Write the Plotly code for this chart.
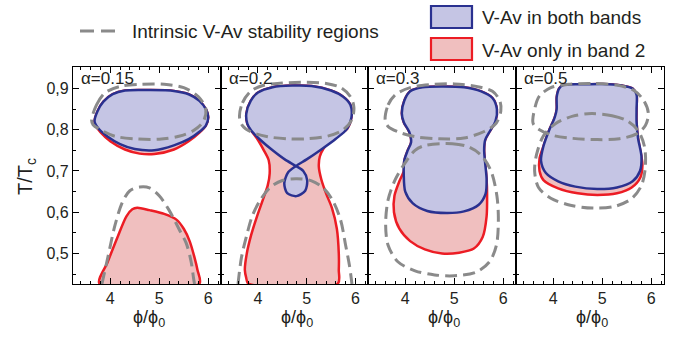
import plotly.graph_objects as go

W, H = 674, 337

# ---------------- data ----------------
alphas = ["α=0.15", "α=0.2", "α=0.3", "α=0.5"]
x_ticks = [4, 5, 6]
x_ticktext = ["4", "5", "6"]
y_ticks = [0.5, 0.6, 0.7, 0.8, 0.9]
y_ticktext = ["0,5", "0,6", "0,7", "0,8", "0,9"]
x_range = [3.24, 6.26]
y_range = [0.426, 0.952]

# panel 1 (alpha = 0.15)
p1_both_x = [3.68, 3.74, 3.86, 4.05, 4.3, 4.8, 5.3, 5.6, 5.82, 5.96, 6.0, 5.95, 5.82, 5.6, 5.3, 4.9, 4.5, 4.2, 3.95, 3.76, 3.68]
p1_both_y = [0.82, 0.845, 0.868, 0.886, 0.895, 0.896, 0.894, 0.886, 0.870, 0.848, 0.83, 0.81, 0.795, 0.777, 0.762, 0.75, 0.753, 0.765, 0.783, 0.803, 0.82]
p1_band2a_x = [3.68, 3.74, 3.86, 4.05, 4.3, 4.8, 5.3, 5.6, 5.82, 5.96, 6.0, 5.95, 5.82, 5.6, 5.3, 4.9, 4.6, 4.3, 4.0, 3.8, 3.7, 3.68]
p1_band2a_y = [0.82, 0.845, 0.868, 0.886, 0.895, 0.896, 0.894, 0.886, 0.870, 0.848, 0.83, 0.81, 0.793, 0.772, 0.752, 0.741, 0.742, 0.752, 0.772, 0.794, 0.81, 0.82]
p1_band2b_x = [3.78, 3.95, 4.15, 4.33, 4.45, 4.55, 4.8, 5.1, 5.35, 5.5, 5.62, 5.72, 5.78, 5.82, 3.78]
p1_band2b_y = [0.427, 0.48, 0.54, 0.59, 0.607, 0.611, 0.605, 0.596, 0.582, 0.56, 0.53, 0.49, 0.46, 0.427, 0.427]
p1_intr_a_x = [3.62, 3.72, 3.9, 4.2, 4.6, 5.1, 5.5, 5.8, 5.95, 5.9, 5.7, 5.4, 5.0, 4.5, 4.1, 3.8, 3.65, 3.62]
p1_intr_a_y = [0.823, 0.86, 0.89, 0.905, 0.91, 0.91, 0.902, 0.88, 0.85, 0.82, 0.798, 0.784, 0.777, 0.778, 0.784, 0.8, 0.812, 0.823]
p1_intr_b_x = [3.83, 3.95, 4.1, 4.25, 4.4, 4.6, 4.8, 5.0, 5.2, 5.4, 5.55, 5.65, 5.7, 5.72]
p1_intr_b_y = [0.426, 0.49, 0.57, 0.625, 0.652, 0.661, 0.659, 0.64, 0.605, 0.56, 0.525, 0.48, 0.44, 0.426]

# panel 2 (alpha = 0.2)
p2_both_x = [3.76, 3.78, 3.86, 4.05, 4.3, 4.55, 4.78, 4.93, 5.01, 4.97, 4.79, 4.6, 4.54, 4.62, 4.78, 5.0, 5.3, 5.6, 5.83, 5.92, 5.9, 5.75, 5.5, 5.1, 4.7, 4.3, 4.0, 3.85, 3.76]
p2_both_y = [0.839, 0.815, 0.798, 0.775, 0.75, 0.728, 0.712, 0.7, 0.678, 0.652, 0.639, 0.646, 0.67, 0.697, 0.712, 0.728, 0.752, 0.778, 0.802, 0.83, 0.86, 0.88, 0.895, 0.906, 0.907, 0.903, 0.89, 0.87, 0.839]
p2_band2_x = [3.76, 3.78, 3.86, 4.0, 4.12, 4.22, 4.24, 4.2, 4.1, 3.98, 3.86, 3.77, 3.73, 3.76, 3.8, 5.64, 5.66, 5.66, 5.62, 5.52, 5.4, 5.3, 5.25, 5.27, 5.35, 5.5, 5.67, 5.83, 5.92, 5.9, 5.75, 5.5, 5.1, 4.7, 4.3, 4.0, 3.85, 3.76]
p2_band2_y = [0.839, 0.815, 0.798, 0.775, 0.75, 0.726, 0.694, 0.665, 0.63, 0.59, 0.545, 0.5, 0.46, 0.44, 0.427, 0.427, 0.46, 0.5, 0.56, 0.61, 0.645, 0.68, 0.71, 0.735, 0.755, 0.775, 0.79, 0.802, 0.83, 0.86, 0.88, 0.895, 0.906, 0.907, 0.903, 0.89, 0.87, 0.839]
p2_intr_a_x = [3.62, 3.68, 3.85, 4.1, 4.5, 5.0, 5.4, 5.7, 5.9, 5.97, 5.93, 5.75, 5.45, 5.0, 4.6, 4.2, 3.85, 3.68, 3.62]
p2_intr_a_y = [0.831, 0.865, 0.893, 0.907, 0.913, 0.915, 0.912, 0.902, 0.88, 0.855, 0.825, 0.8, 0.785, 0.778, 0.778, 0.783, 0.795, 0.81, 0.831]
p2_intr_b_x = [3.59, 3.66, 3.76, 3.88, 4.05, 4.25, 4.5, 4.8, 5.1, 5.35, 5.55, 5.7, 5.8, 5.88, 5.93]
p2_intr_b_y = [0.426, 0.49, 0.54, 0.59, 0.63, 0.66, 0.677, 0.681, 0.676, 0.658, 0.625, 0.58, 0.52, 0.47, 0.426]

# panel 3 (alpha = 0.3)
p3_both_x = [3.93, 3.98, 4.1, 4.35, 4.75, 5.2, 5.55, 5.78, 5.87, 5.84, 5.72, 5.63, 5.61, 5.63, 5.66, 5.64, 5.5, 5.2, 4.85, 4.45, 4.15, 4.0, 3.97, 3.98, 4.05, 4.12, 4.08, 3.97, 3.93]
p3_both_y = [0.84, 0.87, 0.893, 0.903, 0.905, 0.903, 0.893, 0.877, 0.85, 0.82, 0.795, 0.775, 0.75, 0.72, 0.68, 0.645, 0.618, 0.602, 0.598, 0.603, 0.622, 0.65, 0.69, 0.725, 0.75, 0.77, 0.795, 0.818, 0.84]
p3_band2_x = [3.93, 3.98, 4.1, 4.35, 4.75, 5.2, 5.55, 5.78, 5.87, 5.84, 5.72, 5.63, 5.61, 5.63, 5.66, 5.67, 5.66, 5.58, 5.4, 5.1, 4.75, 4.4, 4.1, 3.88, 3.77, 3.78, 3.88, 3.97, 3.98, 4.05, 4.12, 4.08, 3.97, 3.93]
p3_band2_y = [0.84, 0.87, 0.893, 0.903, 0.905, 0.903, 0.893, 0.877, 0.85, 0.82, 0.795, 0.775, 0.75, 0.72, 0.68, 0.645, 0.59, 0.54, 0.512, 0.502, 0.5, 0.51, 0.53, 0.56, 0.6, 0.64, 0.675, 0.7, 0.725, 0.75, 0.77, 0.795, 0.818, 0.84]
p3_intr_a_x = [3.59, 3.65, 3.8, 4.1, 4.5, 5.0, 5.45, 5.78, 5.93, 5.95, 5.85, 5.6, 5.2, 4.7, 4.2, 3.85, 3.65, 3.59]
p3_intr_a_y = [0.823, 0.86, 0.885, 0.902, 0.909, 0.911, 0.905, 0.893, 0.87, 0.845, 0.815, 0.795, 0.78, 0.778, 0.783, 0.795, 0.808, 0.823]
p3_intr_b_x = [4.41, 4.96, 5.3, 5.55, 5.75, 5.87, 5.9, 5.86, 5.72, 5.45, 5.0, 4.6, 4.2, 3.85, 3.65, 3.6, 3.65, 3.8, 4.0, 4.2, 4.41]
p3_intr_b_y = [0.762, 0.766, 0.758, 0.738, 0.7, 0.64, 0.58, 0.52, 0.48, 0.455, 0.446, 0.448, 0.458, 0.48, 0.52, 0.57, 0.63, 0.68, 0.72, 0.75, 0.762]

# panel 4 (alpha = 0.5)
p4_both_x = [4.07, 4.12, 4.2, 4.6, 5.0, 5.4, 5.62, 5.7, 5.7, 5.7, 5.73, 5.8, 5.77, 5.62, 5.3, 4.9, 4.45, 4.1, 3.85, 3.75, 3.8, 3.92, 4.03, 4.07, 4.07]
p4_both_y = [0.879, 0.9, 0.908, 0.91, 0.911, 0.907, 0.9, 0.885, 0.85, 0.82, 0.78, 0.735, 0.7, 0.675, 0.66, 0.656, 0.662, 0.675, 0.695, 0.725, 0.76, 0.8, 0.83, 0.85, 0.879]
p4_band2_x = [4.07, 4.12, 4.2, 4.6, 5.0, 5.4, 5.62, 5.7, 5.7, 5.7, 5.73, 5.8, 5.82, 5.78, 5.6, 5.3, 4.9, 4.5, 4.1, 3.8, 3.72, 3.72, 3.8, 3.92, 4.03, 4.07, 4.07]
p4_band2_y = [0.879, 0.9, 0.908, 0.91, 0.911, 0.907, 0.9, 0.885, 0.85, 0.82, 0.78, 0.735, 0.715, 0.685, 0.66, 0.646, 0.642, 0.646, 0.658, 0.678, 0.7, 0.73, 0.76, 0.8, 0.83, 0.85, 0.879]
p4_intr_a_x = [3.59, 3.63, 3.72, 3.95, 4.3, 4.8, 5.3, 5.65, 5.85, 5.94, 5.88, 5.7, 5.35, 4.9, 4.4, 4.0, 3.72, 3.59]
p4_intr_a_y = [0.815, 0.855, 0.882, 0.902, 0.91, 0.912, 0.908, 0.895, 0.87, 0.84, 0.81, 0.79, 0.778, 0.776, 0.779, 0.786, 0.8, 0.815]
p4_intr_b_x = [4.78, 5.2, 5.5, 5.73, 5.86, 5.88, 5.8, 5.6, 5.25, 4.8, 4.35, 3.95, 3.7, 3.62, 3.66, 3.8, 4.05, 4.4, 4.78]
p4_intr_b_y = [0.839, 0.834, 0.822, 0.798, 0.76, 0.71, 0.665, 0.633, 0.614, 0.61, 0.617, 0.634, 0.66, 0.7, 0.74, 0.785, 0.815, 0.833, 0.839]

panels = [
    dict(band2=[(p1_band2a_x, p1_band2a_y), (p1_band2b_x, p1_band2b_y)],
         both=[(p1_both_x, p1_both_y)],
         intr=[(p1_intr_a_x, p1_intr_a_y), (p1_intr_b_x, p1_intr_b_y)]),
    dict(band2=[(p2_band2_x, p2_band2_y)],
         both=[(p2_both_x, p2_both_y)],
         intr=[(p2_intr_a_x, p2_intr_a_y), (p2_intr_b_x, p2_intr_b_y)]),
    dict(band2=[(p3_band2_x, p3_band2_y)],
         both=[(p3_both_x, p3_both_y)],
         intr=[(p3_intr_a_x, p3_intr_a_y), (p3_intr_b_x, p3_intr_b_y)]),
    dict(band2=[(p4_band2_x, p4_band2_y)],
         both=[(p4_both_x, p4_both_y)],
         intr=[(p4_intr_a_x, p4_intr_a_y), (p4_intr_b_x, p4_intr_b_y)]),
]

# ---------------- styles ----------------
BLUE_LINE = "#2a3190"
BLUE_FILL = "#c5c5e4"
RED_LINE = "#ec1c24"
RED_FILL = "#f0bfbf"
GRAY = "#8a8a8a"
TXT = "#231f20"
FONT = "Liberation Sans, Arial, sans-serif"

def px(v):
    return v / W

def py(v):
    return 1 - v / H

# panel pixel edges
edges = [73, 221, 368, 516, 664]
top_px, bot_px = 67, 284

fig = go.Figure()

for i, p in enumerate(panels):
    xa = "x" if i == 0 else f"x{i+1}"
    ya = "y" if i == 0 else f"y{i+1}"
    for (xs, ys) in p["band2"]:
        fig.add_trace(go.Scatter(x=xs, y=ys, mode="lines", fill="toself",
                                 fillcolor=RED_FILL, line=dict(color=RED_LINE, width=2.5, shape="spline", smoothing=0.8),
                                 xaxis=xa, yaxis=ya, showlegend=False, hoverinfo="skip"))
    for (xs, ys) in p["both"]:
        fig.add_trace(go.Scatter(x=xs, y=ys, mode="lines", fill="toself",
                                 fillcolor=BLUE_FILL, line=dict(color=BLUE_LINE, width=2.5, shape="spline", smoothing=0.8),
                                 xaxis=xa, yaxis=ya, showlegend=False, hoverinfo="skip"))
    for (xs, ys) in p["intr"]:
        fig.add_trace(go.Scatter(x=xs, y=ys, mode="lines",
                                 line=dict(color=GRAY, width=3, dash="12px,6px", shape="spline", smoothing=0.9),
                                 xaxis=xa, yaxis=ya, showlegend=False, hoverinfo="skip"))

layout = dict(
    width=W, height=H,
    margin=dict(l=0, r=0, t=0, b=0),
    paper_bgcolor="white", plot_bgcolor="white",
    font=dict(family=FONT, color=TXT),
    showlegend=False,
)

for i in range(4):
    xk = "xaxis" if i == 0 else f"xaxis{i+1}"
    yk = "yaxis" if i == 0 else f"yaxis{i+1}"
    ya = "y" if i == 0 else f"y{i+1}"
    xa = "x" if i == 0 else f"x{i+1}"
    layout[xk] = dict(
        domain=[px(edges[i]), px(edges[i+1])], anchor=ya, range=x_range,
        tickvals=x_ticks, ticktext=x_ticktext, ticks="inside", ticklen=6, tickwidth=1.2,
        tickcolor="black", showline=True, linecolor="black", linewidth=1.3, mirror="ticks",
        showgrid=False, zeroline=False, tickfont=dict(size=16, color=TXT),
        minor=dict(dtick=0.2, tick0=0, ticks="inside", ticklen=3, tickwidth=1, tickcolor="black", showgrid=False),
    )
    layout[yk] = dict(
        domain=[py(bot_px), py(top_px)], anchor=xa, range=y_range,
        tickvals=y_ticks, ticktext=y_ticktext, ticks="inside", ticklen=6, tickwidth=1.2,
        tickcolor="black", showline=True, linecolor="black", linewidth=1.3, mirror="ticks",
        showgrid=False, zeroline=False, tickfont=dict(size=16, color=TXT),
        showticklabels=(i == 0),
        minor=dict(dtick=0.05, tick0=0, ticks="inside", ticklen=3, tickwidth=1, tickcolor="black", showgrid=False),
    )

fig.update_layout(**layout)

annotations = []
label_x = [79, 227, 374, 522]
for i in range(4):
    annotations.append(dict(text=alphas[i], xref="paper", yref="paper", x=px(label_x[i]), y=py(78),
                            xanchor="left", yanchor="middle", showarrow=False, font=dict(size=17, color=TXT)))
    cx = (edges[i] + edges[i+1]) / 2 + 2
    annotations.append(dict(text="ϕ/ϕ<sub>0</sub>", xref="paper", yref="paper", x=px(cx), y=py(318),
                            xanchor="center", yanchor="middle", showarrow=False, font=dict(size=18, color=TXT)))
annotations.append(dict(text="T/T<sub>c</sub>", xref="paper", yref="paper", x=px(26), y=py(177),
                        textangle=-90, xanchor="center", yanchor="middle", showarrow=False,
                        font=dict(size=20, color=TXT)))
# legend texts
annotations.append(dict(text="Intrinsic V-Av stability regions", xref="paper", yref="paper", x=px(130), y=py(32),
                        xanchor="left", yanchor="middle", showarrow=False, font=dict(size=19, color=TXT)))
annotations.append(dict(text="V-Av in both bands", xref="paper", yref="paper", x=px(480), y=py(18),
                        xanchor="left", yanchor="middle", showarrow=False, font=dict(size=19, color=TXT)))
annotations.append(dict(text="V-Av only in band 2", xref="paper", yref="paper", x=px(480), y=py(50),
                        xanchor="left", yanchor="middle", showarrow=False, font=dict(size=19, color=TXT)))

shapes = [
    dict(type="line", xref="paper", yref="paper", x0=px(80), x1=px(116), y0=py(31), y1=py(31),
         line=dict(color=GRAY, width=3, dash="14px,7px")),
    dict(type="rect", xref="paper", yref="paper", x0=px(431), x1=px(472), y0=py(6), y1=py(28),
         fillcolor=BLUE_FILL, line=dict(color=BLUE_LINE, width=2.2)),
    dict(type="rect", xref="paper", yref="paper", x0=px(431), x1=px(472), y0=py(38), y1=py(60),
         fillcolor=RED_FILL, line=dict(color=RED_LINE, width=2.2)),
]

fig.update_layout(annotations=annotations, shapes=shapes)

fig.write_html("out.html")
